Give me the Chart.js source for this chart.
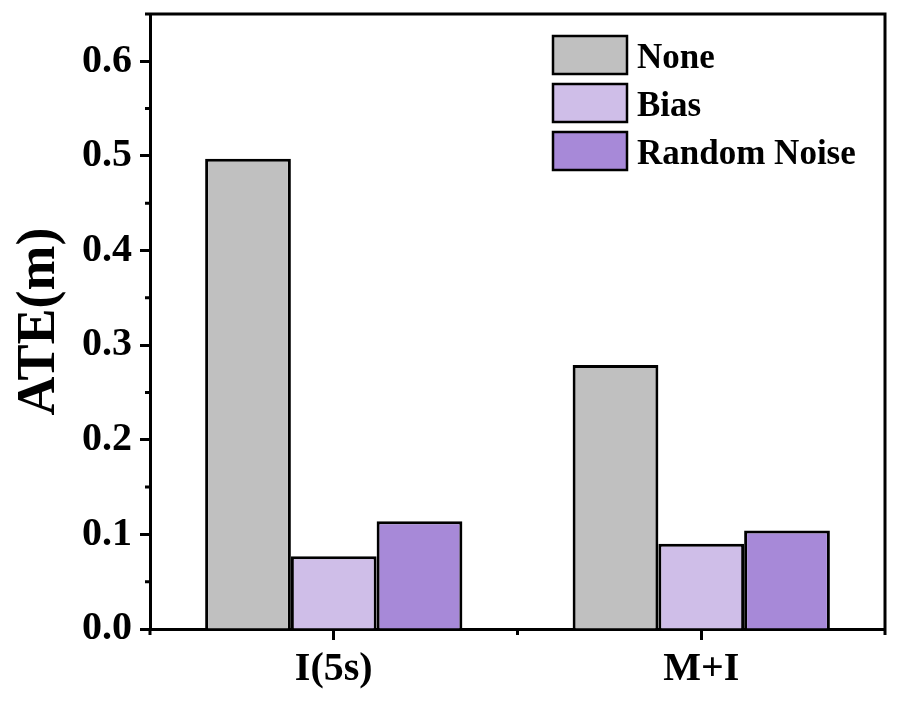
<!DOCTYPE html>
<html><head><meta charset="utf-8">
<script src="https://cdn.jsdelivr.net/npm/chart.js@4.4.1/dist/chart.umd.min.js"></script>
<style>html,body{margin:0;padding:0;background:#fff}#wrap{width:897px;height:702px}</style>
</head><body><div id="wrap"><canvas id="c" width="897" height="702"></canvas></div>
<script>
const categories = ['I(5s)', 'M+I'];
const seriesNames = ['None', 'Bias', 'Random Noise'];
const noneValues = [0.497, 0.279];
const biasValues = [0.077, 0.090];
const noiseValues = [0.114, 0.104];
const yTicks = [0.0, 0.1, 0.2, 0.3, 0.4, 0.5, 0.6];
const yMinorTicks = [0.05, 0.15, 0.25, 0.35, 0.45, 0.55, 0.65];
const seriesColors = ['#C0C0C0', '#CFBEE8', '#A789D8'];

const FONT = "'Liberation Serif', 'Times New Roman', serif";

const frame = {
  id: 'frame',
  afterDraw(chart) {
    const ctx = chart.ctx, a = chart.chartArea;
    const x = chart.scales.x, y = chart.scales.y;
    ctx.save();
    ctx.strokeStyle = '#000';
    ctx.lineWidth = 3;
    ctx.beginPath();
    ctx.moveTo(a.left - 1.5, a.top); ctx.lineTo(a.right, a.top);
    ctx.moveTo(a.right, a.top - 1.5); ctx.lineTo(a.right, a.bottom + 1.5);
    // y minor ticks
    yMinorTicks.forEach(v => {
      const py = y.getPixelForValue(v);
      ctx.moveTo(a.left - 5, py); ctx.lineTo(a.left, py);
    });
    // x minor ticks at category boundaries
    for (let i = 0; i <= categories.length; i++) {
      const px = x.getPixelForValue(i - 0.5);
      ctx.moveTo(px, a.bottom); ctx.lineTo(px, a.bottom + 6);
    }
    ctx.stroke();
    // legend
    const bx = 553, by0 = 36, bw = 74, bh = 38, pitch = 48;
    ctx.font = 'bold 35px ' + FONT;
    ctx.textBaseline = 'middle';
    ctx.textAlign = 'left';
    chart.data.datasets.forEach((ds, i) => {
      const by = by0 + i * pitch;
      ctx.fillStyle = ds.backgroundColor;
      ctx.fillRect(bx, by, bw, bh);
      ctx.lineWidth = 2.5;
      ctx.strokeRect(bx, by, bw, bh);
      ctx.fillStyle = '#000';
      ctx.fillText(ds.label, bx + bw + 10, by + bh / 2 + 4);
    });
    ctx.restore();
  }
};

new Chart(document.getElementById('c'), {
  type: 'bar',
  data: {
    labels: categories,
    datasets: [
      { label: seriesNames[0], data: noneValues, backgroundColor: seriesColors[0] },
      { label: seriesNames[1], data: biasValues, backgroundColor: seriesColors[1] },
      { label: seriesNames[2], data: noiseValues, backgroundColor: seriesColors[2] }
    ].map(d => Object.assign(d, { borderColor: '#000', borderWidth: 3, categoryPercentage: 0.7, barPercentage: 1.0 }))
  },
  options: {
    responsive: false,
    animation: false,
    devicePixelRatio: 1,
    layout: { padding: { top: 14, right: 12, bottom: 0, left: 0 } },
    plugins: { legend: { display: false }, tooltip: { enabled: false } },
    scales: {
      x: {
        offset: true,
        grid: { drawOnChartArea: false, offset: false, tickLength: 11, tickWidth: 3, tickColor: '#000' },
        border: { display: true, color: '#000', width: 3 },
        ticks: { color: '#000', font: { family: FONT, size: 40, weight: 'bold' }, padding: 6 },
        afterFit: s => { s.height = 73; s.paddingLeft = 0; s.paddingRight = 0; }
      },
      y: {
        min: 0, max: 0.65,
        afterBuildTicks: s => { s.ticks = yTicks.map(v => ({ value: v })); },
        grid: { drawOnChartArea: false, tickLength: 10, tickWidth: 3, tickColor: '#000' },
        border: { display: true, color: '#000', width: 3 },
        ticks: { color: '#000', font: { family: FONT, size: 40, weight: 'bold' }, padding: 8, callback: v => Number(v).toFixed(1) },
        title: { display: true, text: 'ATE(m)', color: '#000', font: { family: FONT, size: 54, weight: 'bold' }, padding: { top: 8, bottom: 0 } },
        afterFit: s => { s.width = 150; s.paddingTop = 0; s.paddingBottom = 0; }
      }
    }
  },
  plugins: [frame]
});
</script>
</body></html>
